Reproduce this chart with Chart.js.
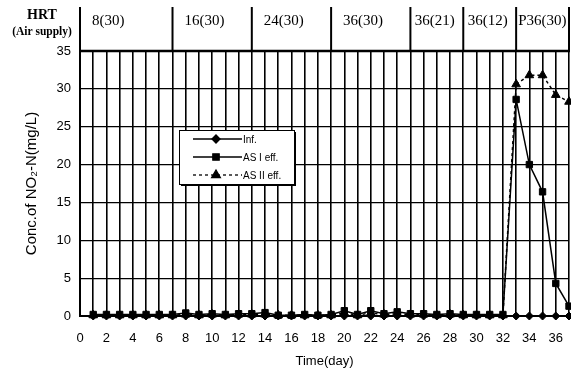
<!DOCTYPE html>
<html><head><meta charset="utf-8">
<script src="https://cdn.jsdelivr.net/npm/chart.js@4.4.0/dist/chart.umd.min.js"></script>
<style>html,body{margin:0;padding:0;background:#fff;}#wrap{width:571px;height:371px;position:relative;}</style>
</head><body><div id="wrap"><canvas id="c"></canvas></div>
<script>
// ---- data ----
const days = [1,2,3,4,5,6,7,8,9,10,11,12,13,14,15,16,17,18,19,20,21,22,23,24,25,26,27,28,29,30,31,32,33,34,35,36,37];
const infValues = [0,0,0,0,0,0,0,0,0,0,0,0,0,0,0,0,0,0,0,0,0,0,0,0,0,0,0,0,0,0,0,0,0,0,0,0,0];
const as1Values = [0.2,0.2,0.2,0.2,0.2,0.2,0.2,0.4,0.2,0.3,0.2,0.3,0.3,0.45,0.1,0.1,0.2,0.1,0.2,0.7,0.2,0.7,0.3,0.55,0.3,0.3,0.2,0.3,0.2,0.2,0.2,0.2,28.6,20.0,16.4,4.3,1.3];
const as2Values = [0.1,0.1,0.1,0.1,0.1,0.1,0.1,0.2,0.1,0.2,0.1,0.2,0.2,0.2,0.1,0.1,0.1,0.1,0.1,0.4,0.1,0.4,0.2,0.3,0.2,0.2,0.1,0.2,0.1,0.1,0.1,0.1,30.6,31.8,31.8,29.2,28.3];
const seriesLabels = ['Inf.', 'AS I eff.', 'AS II eff.'];
const xTickLabels = [0,2,4,6,8,10,12,14,16,18,20,22,24,26,28,30,32,34,36];
const yTickLabels = [0,5,10,15,20,25,30,35];
const hrtBoundaries = [0,7,13,19,25,29,33,37];
const hrtLabels = ['8(30)','16(30)','24(30)','36(30)','36(21)','36(12)','P36(30)'];
const xMax = 37;

const toXY = vals => vals.map((v,i)=>({x:days[i], y:v}));
const sansFont = "'Liberation Sans', Arial, sans-serif";
const serifFont = "'Liberation Serif', 'DejaVu Serif', serif";

const headerPlugin = {
  id: 'header',
  afterDraw(chart) {
    const {ctx, chartArea} = chart;
    const xs = chart.scales.x;
    ctx.save();
    ctx.strokeStyle = '#000';
    ctx.lineWidth = 2.5;
    ctx.beginPath();
    ctx.moveTo(chartArea.left - 1, chartArea.top);
    ctx.lineTo(chartArea.right + 1, chartArea.top);
    ctx.stroke();
    ctx.lineWidth = 2;
    hrtBoundaries.forEach(b => {
      const px = xs.getPixelForValue(b);
      ctx.beginPath();
      ctx.moveTo(px, 7);
      ctx.lineTo(px, chartArea.top);
      ctx.stroke();
    });
    ctx.fillStyle = '#000';
    ctx.textBaseline = 'middle';
    ctx.textAlign = 'left';
    ctx.font = '15px ' + serifFont;
    hrtLabels.forEach((lab, i) => {
      const px = xs.getPixelForValue(hrtBoundaries[i]);
      const next = xs.getPixelForValue(hrtBoundaries[i + 1]);
      const w = ctx.measureText(lab).width;
      const off = Math.min(12, Math.max(2, (next - px - w) / 2 - 2));
      ctx.fillText(lab, px + off, 21);
    });
    ctx.textAlign = 'center';
    ctx.font = 'bold 14px ' + serifFont;
    ctx.fillText('HRT', 42, 15);
    ctx.font = 'bold 11.5px ' + serifFont;
    ctx.fillText('(Air supply)', 42, 32);
    ctx.restore();
  }
};

const legendPlugin = {
  id: 'boxLegend',
  afterDraw(chart) {
    const {ctx} = chart;
    const box = {x: 179, y: 130, w: 115, h: 54};
    ctx.save();
    ctx.fillStyle = '#000';
    ctx.fillRect(box.x + 2, box.y + 2, box.w, box.h);
    ctx.fillStyle = '#fff';
    ctx.fillRect(box.x, box.y, box.w, box.h);
    ctx.strokeStyle = '#000';
    ctx.lineWidth = 1;
    ctx.strokeRect(box.x + 0.5, box.y + 0.5, box.w, box.h);
    [0, 1, 2].forEach((di, row) => {
      const ds = chart.data.datasets[di];
      const y = box.y + 9 + row * 18;
      ctx.strokeStyle = '#000';
      ctx.lineWidth = 1.3;
      ctx.setLineDash(ds.borderDash || []);
      ctx.beginPath();
      ctx.moveTo(box.x + 14, y);
      ctx.lineTo(box.x + 63, y);
      ctx.stroke();
      ctx.setLineDash([]);
      ctx.fillStyle = '#000';
      Chart.helpers.drawPoint(ctx, {pointStyle: ds.pointStyle, radius: ds.pointRadius, rotation: 0, borderWidth: 1}, box.x + 37, y);
      ctx.font = '10px ' + sansFont;
      ctx.textAlign = 'left';
      ctx.textBaseline = 'middle';
      ctx.fillText(ds.label, box.x + 64, y + 1);
    });
    ctx.restore();
  }
};

const common = {borderColor: '#000', backgroundColor: '#000', pointBackgroundColor: '#000', pointBorderColor: '#000',
  borderWidth: 1.5, pointBorderWidth: 1, clip: false};

new Chart(document.getElementById('c'), {
  type: 'line',
  data: {
    datasets: [
      Object.assign({label: seriesLabels[0], data: toXY(infValues), pointStyle: 'rectRot', pointRadius: 4, order: 2}, common),
      Object.assign({label: seriesLabels[1], data: toXY(as1Values), pointStyle: 'rect', pointRadius: 4.5, order: 0}, common),
      Object.assign({label: seriesLabels[2], data: toXY(as2Values), borderDash: [3, 3], pointStyle: 'triangle', pointRadius: 5, order: 1}, common)
    ]
  },
  options: {
    responsive: true,
    maintainAspectRatio: false,
    animation: false,
    events: [],
    layout: {autoPadding: false, padding: {top: 51, right: 2, bottom: 0, left: 0}},
    plugins: {legend: {display: false}, tooltip: {enabled: false}},
    scales: {
      x: {
        type: 'linear', min: 0, max: xMax,
        afterBuildTicks(scale) {
          const t = [];
          for (let d = 0; d <= xMax; d++) t.push({value: d});
          scale.ticks = t;
        },
        afterFit(scale) { scale.height = 55; scale.paddingLeft = 0; scale.paddingRight = 0; },
        ticks: {
          autoSkip: false, maxRotation: 0, padding: 0, color: '#000',
          font: {family: sansFont, size: 13},
          callback(v) { return xTickLabels.includes(v) ? String(v) : ''; }
        },
        grid: {color: '#000', lineWidth: 1.6, drawTicks: true, tickLength: 15, tickColor: 'rgba(0,0,0,0)'},
        border: {color: '#000', width: 2},
        title: {display: true, text: 'Time(day)', color: '#000', font: {family: sansFont, size: 13}, padding: {top: 0, bottom: 2}}
      },
      y: {
        min: 0, max: 35,
        afterBuildTicks(scale) { scale.ticks = yTickLabels.map(v => ({value: v})); },
        afterFit(scale) { scale.width = 80; },
        ticks: {padding: 9, color: '#000', font: {family: sansFont, size: 13}},
        grid: {color: '#000', lineWidth: 1.2, drawTicks: false},
        border: {color: '#000', width: 2},
        title: {display: true, text: 'Conc.of NO\u2082-N(mg/L)', color: '#000', font: {family: sansFont, size: 15}, padding: {top: 23, bottom: 0}}
      }
    }
  },
  plugins: [headerPlugin, legendPlugin]
});
</script></body></html>
